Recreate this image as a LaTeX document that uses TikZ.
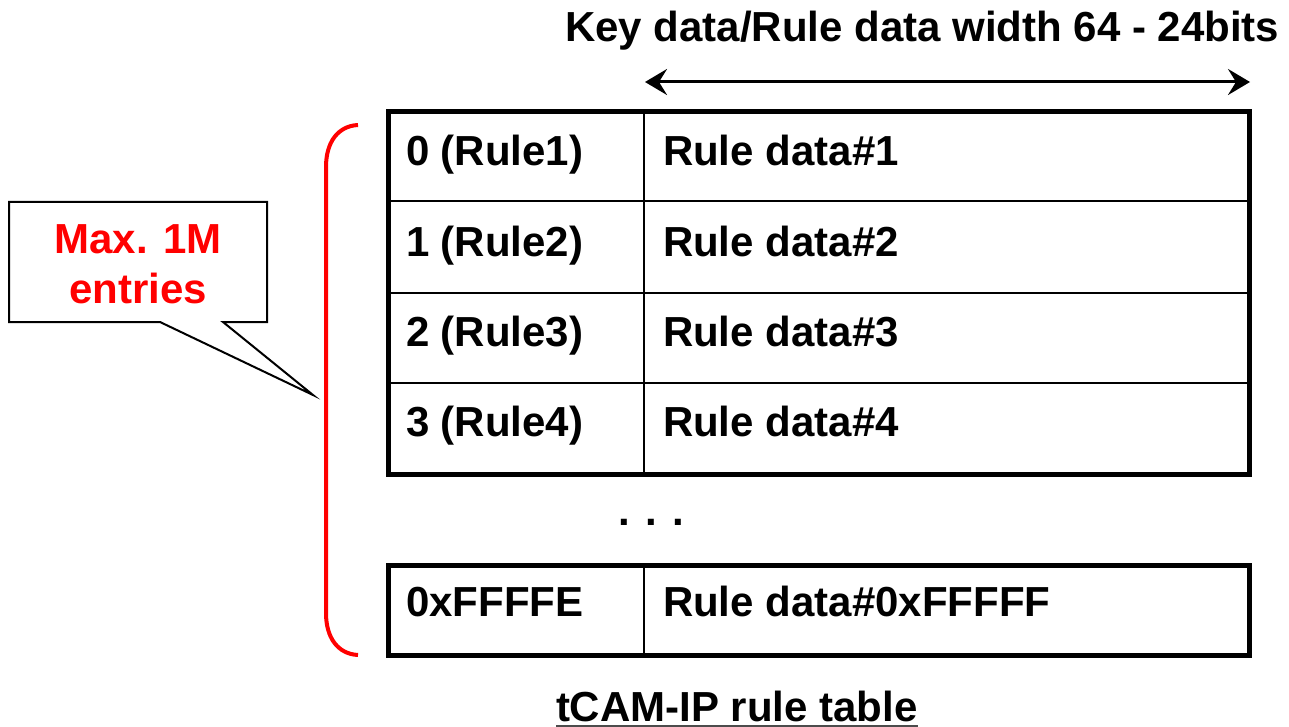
\documentclass[tikz,border=0pt]{standalone}
\usepackage{fontspec}
\setmainfont{Liberation Sans}
\usetikzlibrary{arrows.meta}
\begin{document}
\begin{tikzpicture}[x=1pt,y=-1pt,
  txt/.style={font=\fontsize{42}{50}\selectfont\bfseries, inner sep=0pt, outer sep=0pt, anchor=base west},
  cell/.style={draw, line width=2pt, inner sep=0pt, outer sep=0pt, anchor=north west, minimum height=#1},
  keycell/.style={cell=#1, minimum width=256pt},
  datacell/.style={cell=#1, minimum width=605pt},
  frame/.style={draw, line width=5pt},
  widtharrow/.style={line width=3pt, >={Stealth[length=22pt,width=26pt,inset=8pt]}, <->}]
\useasboundingbox (0,0) rectangle (1289,727);

% title and width arrow
\node[txt] (title) at (565,42) {Key data/Rule data width 64 - 24bits};
\coordinate (aL) at (645,82);
\coordinate (aR) at (1250,82);
\draw[widtharrow] (aL) -- (aR);

% main table cells
\node[keycell=89pt]  (k1) at (388,112) {};
\node[datacell=89pt] (d1) at (644,112) {};
\node[keycell=92pt]  (k2) at (388,201) {};
\node[datacell=92pt] (d2) at (644,201) {};
\node[keycell=90pt]  (k3) at (388,293) {};
\node[datacell=90pt] (d3) at (644,293) {};
\node[keycell=91pt]  (k4) at (388,383) {};
\node[datacell=91pt] (d4) at (644,383) {};
\draw[frame] (k1.north west) rectangle (d4.south east);

% last row
\node[keycell=90pt]  (k5) at (388,565) {};
\node[datacell=90pt] (d5) at (644,565) {};
\draw[frame] (k5.north west) rectangle (d5.south east);

% texts in the table
\node[txt] (t1) at (406,166) {0 (Rule1)};
\node[txt] (r1) at (663,166) {Rule data\#1};
\node[txt] (t2) at (406,256) {1 (Rule2)};
\node[txt] (r2) at (663,256) {Rule data\#2};
\node[txt] (t3) at (406,346) {2 (Rule3)};
\node[txt] (r3) at (663,346) {Rule data\#3};
\node[txt] (t4) at (406,436) {3 (Rule4)};
\node[txt] (r4) at (663,436) {Rule data\#4};
\node[txt] (dots) at (618,525) {. . .};
\node[txt] (t5) at (406,616) {0xFFFFE};
\node[txt] (r5) at (663,616) {Rule data\#0xFFFFF};

% caption
\node[txt] (caption) at (556,721) {tCAM-IP rule table};
\draw[line width=1.5pt, black!70] ([yshift=-5pt]caption.base west) -- ([yshift=-5pt]caption.base east);

% red brace
\draw[red, line width=4pt] (358,125) .. controls (338,126) and (326,142) .. (326,167)
  -- (326,613) .. controls (326,638) and (338,654) .. (358,655);

% callout
\draw[line width=2pt, fill=white] (9,202) -- (267,202) -- (267,322) -- (223,322)
  -- (313,395) -- (160,322) -- (9,322) -- cycle;
\node[txt, red, anchor=base] (c1) at (138,253) {Max. 1M};
\node[txt, red, anchor=base] (c2) at (138,303) {entries};
\end{tikzpicture}
\end{document}
